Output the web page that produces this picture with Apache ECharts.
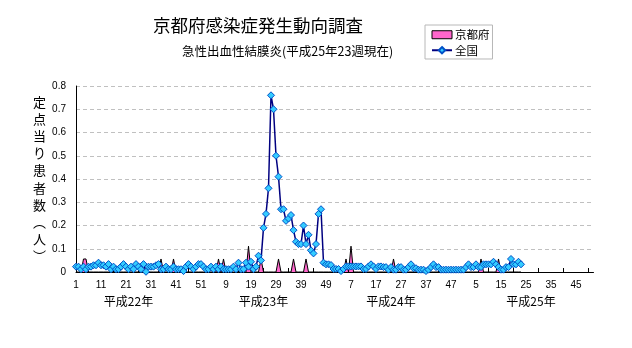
<!DOCTYPE html>
<html>
<head>
<meta charset="utf-8">
<script src="https://cdn.jsdelivr.net/npm/echarts@6/dist/echarts.min.js"></script>
<style>
html, body { margin: 0; padding: 0; background: #fff; }
#chart { width: 632px; height: 348px; }
</style>
</head>
<body>
<div id="chart"></div>
<script>
// Surveillance weeks: four years of 52 weeks each
const yearNames = ['平成22年', '平成23年', '平成24年', '平成25年'];
const weeksPerYear = [52, 52, 52, 52];
// category index under which each year caption is printed
const yearLabelIdx = [21, 75, 126, 182];

// 京都府: patients per sentinel site, by week
const kyoto2010 = [0,0,0,0.056,0.056,0,0,0,0,0, 0,0,0,0,0,0,0,0,0,0, 0,0,0,0,0,0,0,0,0,0,
                   0,0,0,0,0.056,0,0,0,0,0.056, 0,0,0,0,0,0,0,0,0,0, 0,0];
const kyoto2011 = [0,0,0,0,0,0.056,0,0.056,0,0, 0,0,0,0,0,0,0,0.111,0,0, 0,0,0.056,0,0,0,0,0,0,0.056,
                   0,0,0,0,0,0.056,0,0,0,0, 0.056,0,0,0,0,0,0,0,0,0, 0,0];
const kyoto2012 = [0,0,0,0,0.056,0,0.111,0,0,0, 0,0,0,0,0,0,0,0,0,0, 0,0,0,0.056,0,0,0,0,0,0,
                   0,0,0,0,0,0,0,0,0,0, 0,0,0,0,0,0,0,0,0,0, 0,0];
const kyoto2013 = [0,0,0,0,0,0,0.056,0,0,0, 0,0,0,0.056,0,0,0,0,0,0, 0,0,0];

// 全国: patients per sentinel site, by week
const zenkoku2010 = [0.023,0.023,0.012,0.023,0.012,0.023,0.023,0.029,0.029,0.040,
                     0.029,0.029,0.023,0.034,0.012,0.023,0.012,0.012,0.023,0.034,
                     0.023,0.012,0.023,0.012,0.034,0.023,0.012,0.034,0.001,0.023,
                     0.023,0.023,0.029,0.034,0.012,0.012,0.023,0.012,0.012,0.023,
                     0.012,0.012,0.012,0.004,0.023,0.034,0.023,0.012,0.023,0.034,
                     0.034,0.023];
const zenkoku2011 = [0.012,0.012,0.023,0.012,0.023,0.012,0.023,0.012,0.012,0.012,
                     0.012,0.023,0.012,0.040,0.012,0.012,0.040,0.023,0.044,0.012,
                     0.023,0.070,0.050,0.190,0.250,0.360,0.760,0.700,0.500,0.410,
                     0.270,0.270,0.220,0.230,0.245,0.180,0.130,0.120,0.120,0.200,
                     0.120,0.160,0.093,0.080,0.120,0.250,0.270,0.040,0.033,0.033,
                     0.030,0.013];
const zenkoku2012 = [0.013,0.013,0.004,0.013,0.024,0.024,0.024,0.024,0.024,0.024,
                     0.024,0.013,0.013,0.024,0.033,0.024,0.013,0.024,0.024,0.021,
                     0.021,0.010,0.021,0.010,0.010,0.021,0.021,0.010,0.010,0.021,
                     0.033,0.016,0.016,0.010,0.010,0.010,0.004,0.010,0.021,0.033,
                     0.021,0.021,0.010,0.010,0.010,0.010,0.010,0.010,0.010,0.010,
                     0.010,0.010];
const zenkoku2013 = [0.021,0.033,0.021,0.021,0.033,0.021,0.021,0.033,0.033,0.033,
                     0.033,0.044,0.033,0.021,0.010,0.010,0.021,0.021,0.056,0.033,
                     0.033,0.044,0.033];

// y axis scale
const yMin = 0, yMax = 0.8, yStep = 0.1;

// build the week categories and per-category week numbers
const categories = [];
const weekNumbers = [];
yearNames.forEach((y, yi) => {
  for (let w = 1; w <= weeksPerYear[yi]; w++) {
    categories.push(y + w + '週');
    weekNumbers.push(String(w));
  }
});
const kyoto = [].concat(kyoto2010, kyoto2011, kyoto2012, kyoto2013);
const zenkoku = [].concat(zenkoku2010, zenkoku2011, zenkoku2012, zenkoku2013);

const jp = 'Noto Sans CJK JP';
const num = 'Liberation Sans';

const chart = echarts.init(document.getElementById('chart'), null, { renderer: 'canvas' });
chart.setOption({
  animation: false,
  backgroundColor: '#ffffff',
  title: [
    { text: '京都府感染症発生動向調査', left: 153, top: 17, padding: 0,
      textStyle: { fontFamily: jp, fontSize: 17.5, fontWeight: 'normal', color: '#000' } },
    { text: '急性出血性結膜炎(平成25年23週現在)', left: 182, top: 45, padding: 0,
      textStyle: { fontFamily: jp, fontSize: 12.5, fontWeight: 'normal', color: '#000' } }
  ],
  legend: {
    orient: 'vertical',
    left: 425, top: 25,
    padding: [4, 3, 3, 6],
    itemWidth: 20, itemHeight: 8, itemGap: 4,
    borderColor: '#b8b8b8', borderWidth: 1,
    textStyle: { fontFamily: jp, fontSize: 11.5, color: '#000', padding: [0, 0, 0, -2] },
    data: [
      { name: '京都府', icon: 'rect',
        itemStyle: { color: '#ff66cc', borderColor: '#000', borderWidth: 1 } },
      { name: '全国' }
    ]
  },
  grid: { left: 76, right: 38.5, top: 86, bottom: 76, containLabel: false },
  xAxis: [
    {
      type: 'category', data: categories, boundaryGap: false,
      axisLine: { lineStyle: { color: '#000', width: 1 } },
      axisTick: { show: true, inside: true, length: 4,
                  interval: (i) => i % 10 === 5, lineStyle: { color: '#000' } },
      axisLabel: { interval: 9, margin: 8, fontFamily: num, fontSize: 10, color: '#000',
                   formatter: (v, i) => weekNumbers[i] },
      splitLine: { show: false }
    },
    {
      type: 'category', data: categories, boundaryGap: false,
      position: 'bottom', offset: 15,
      axisLine: { show: false }, axisTick: { show: false },
      axisLabel: { interval: (i) => yearLabelIdx.indexOf(i) >= 0, margin: 8,
                   fontFamily: jp, fontSize: 12, color: '#000',
                   formatter: (v, i) => yearNames[yearLabelIdx.indexOf(i)] },
      splitLine: { show: false }
    }
  ],
  yAxis: {
    type: 'value', min: yMin, max: yMax, interval: yStep,
    name: '定\n点\n当\nり\n患\n者\n数\n︵\n人\n︶',
    nameLocation: 'middle', nameRotate: 0, nameGap: 30,
    nameTextStyle: { fontFamily: jp, fontSize: 13, lineHeight: 17.2, color: '#000' },
    axisLine: { show: true, lineStyle: { color: '#000', width: 1 } },
    axisTick: { show: false },
    axisLabel: { margin: 10, fontFamily: num, fontSize: 10, color: '#000',
                 formatter: (v) => (v === 0 ? '0' : v.toFixed(1)) },
    splitLine: { show: true, lineStyle: { color: '#c0c0c0', type: [4, 3], width: 1 } }
  },
  series: [
    {
      name: '京都府', type: 'line', xAxisIndex: 0, data: kyoto,
      symbol: 'none', z: 2,
      lineStyle: { color: '#000', width: 1 },
      areaStyle: { color: '#ff66cc', opacity: 1 },
      itemStyle: { color: '#ff66cc', borderColor: '#000' }
    },
    {
      name: '全国', type: 'line', xAxisIndex: 0, data: zenkoku,
      symbol: 'diamond', symbolSize: 7, showSymbol: true, showAllSymbol: true, z: 3,
      lineStyle: { color: '#000080', width: 1.5 },
      itemStyle: { color: '#33ccff', borderColor: '#0050c8', borderWidth: 1 }
    }
  ]
});
</script>
</body>
</html>
